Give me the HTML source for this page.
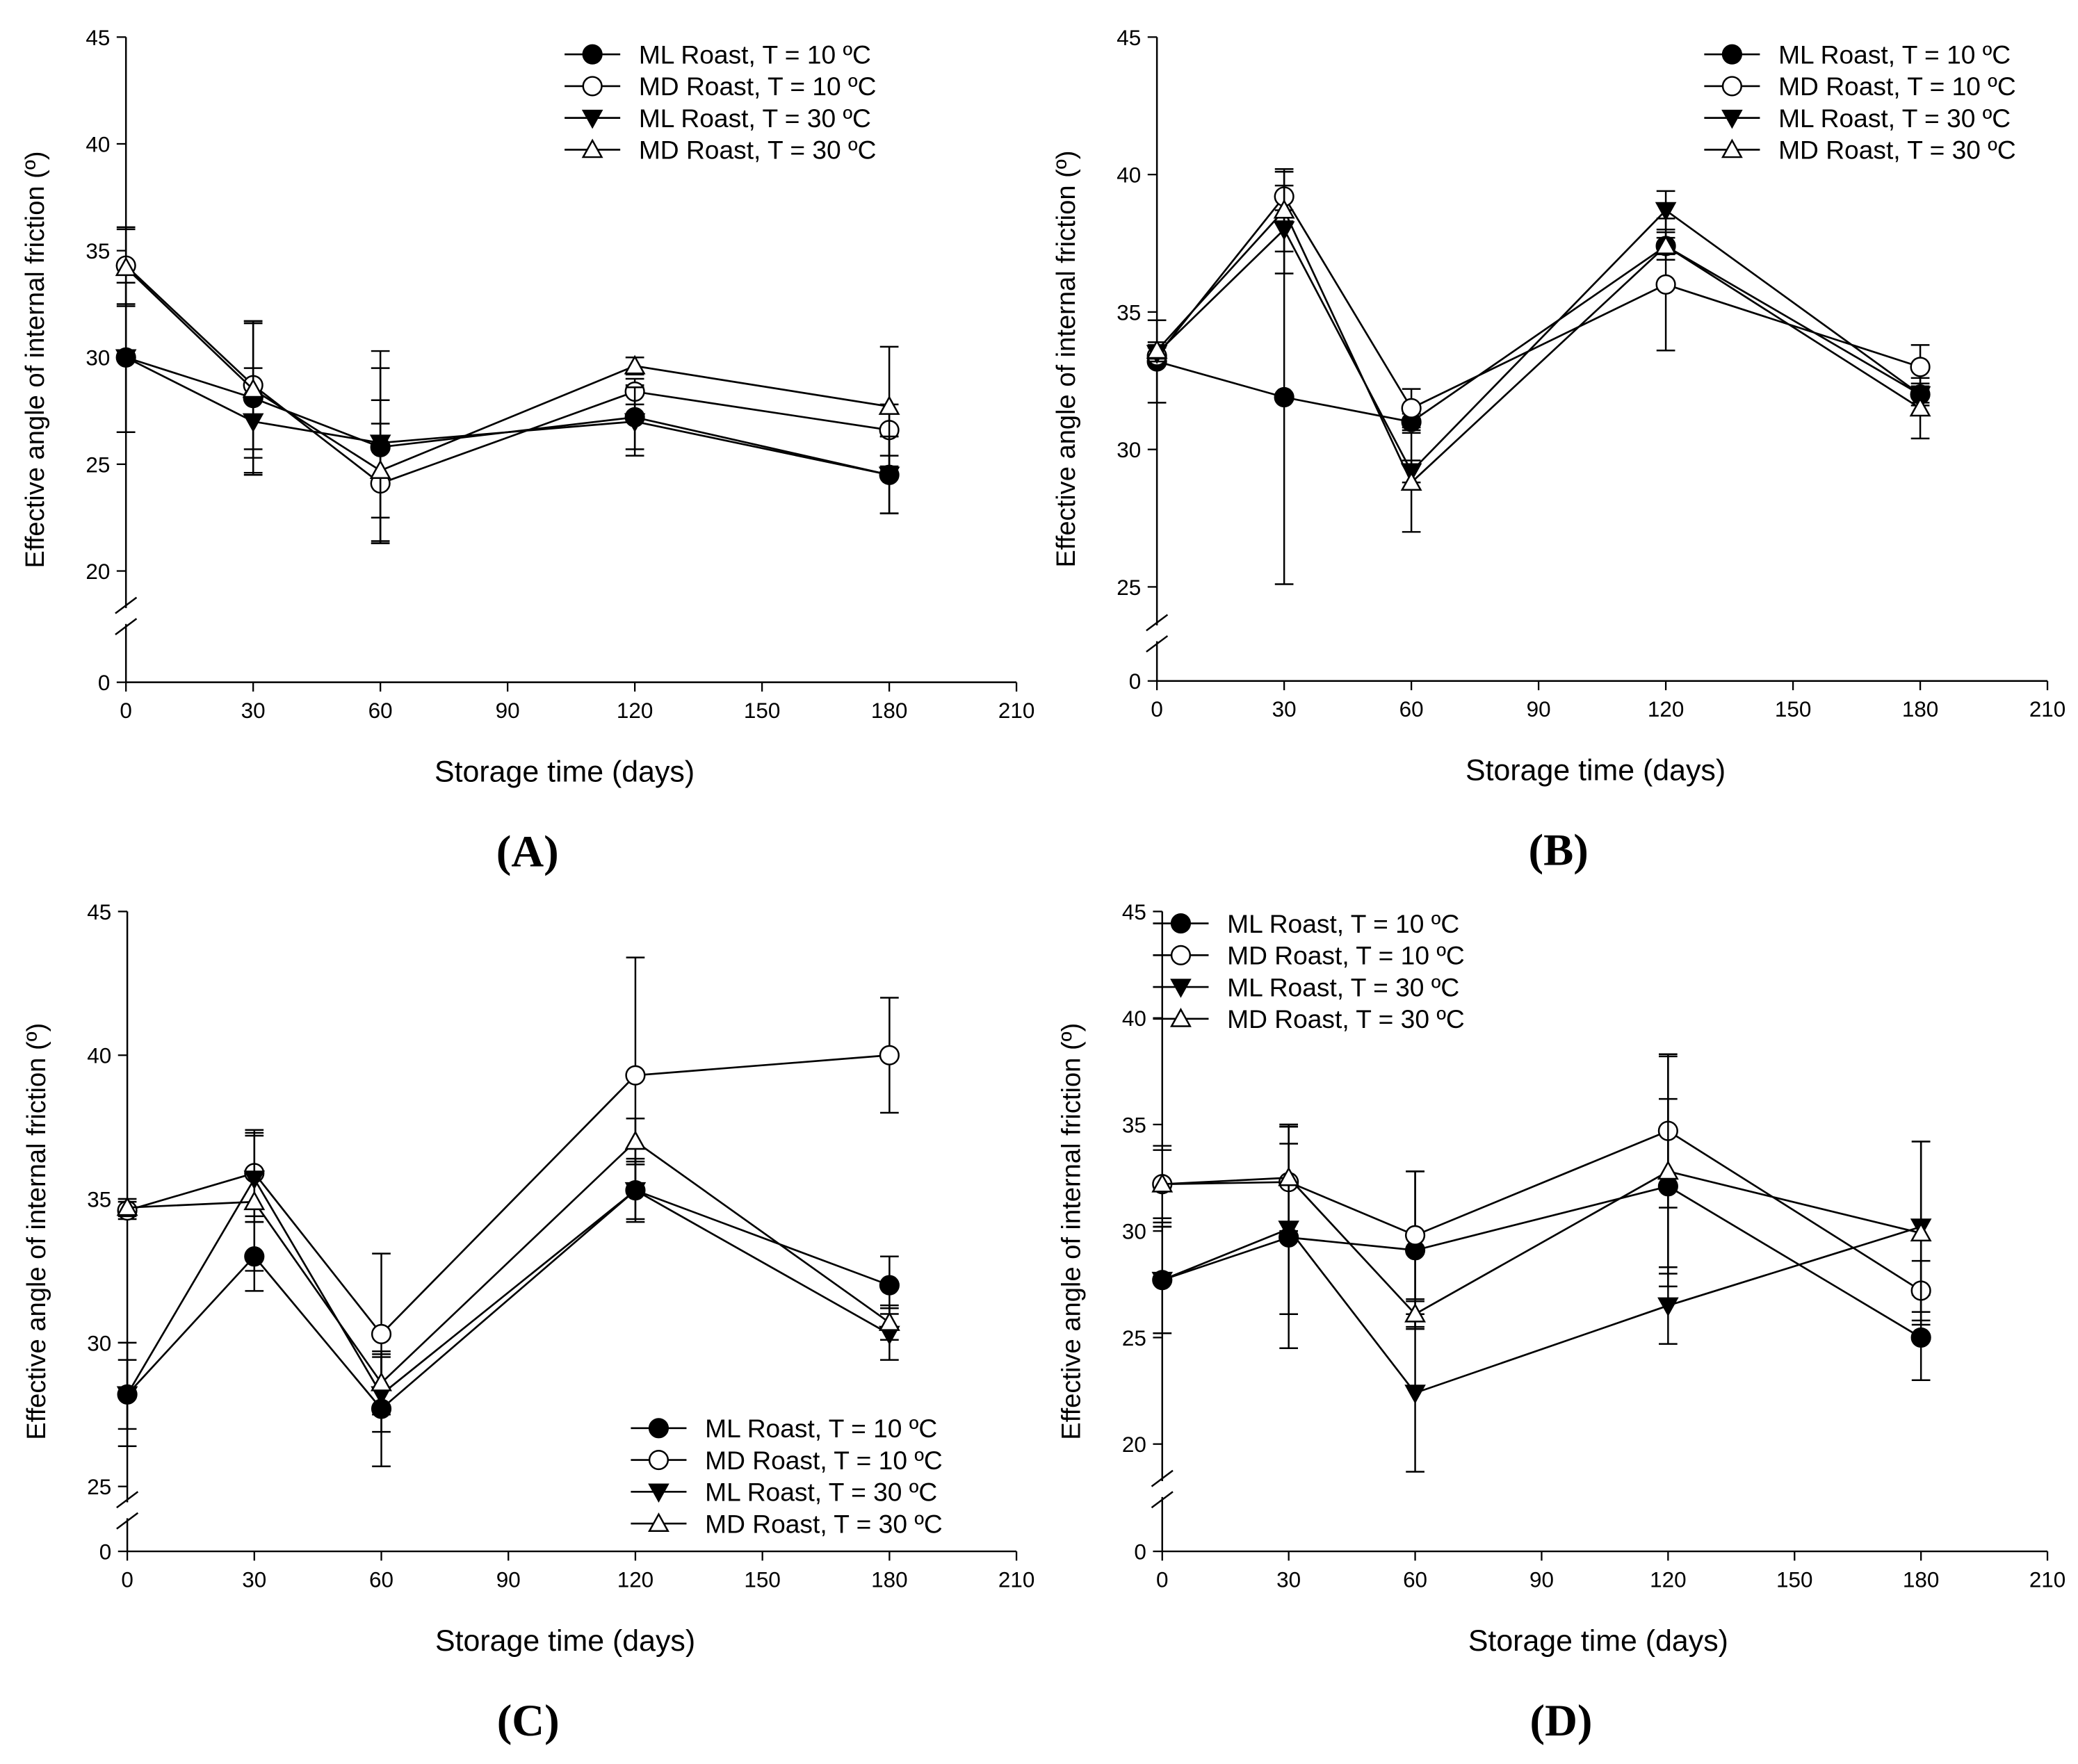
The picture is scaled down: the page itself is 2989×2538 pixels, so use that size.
<!DOCTYPE html>
<html><head><meta charset="utf-8">
<style>
html,body{margin:0;padding:0;background:#fff;}
svg{display:block;}
text{font-family:"Liberation Sans",Arial,sans-serif;fill:#000;}
.lbl{font-family:"Liberation Serif",serif;font-weight:bold;font-size:34px;}
</style></head>
<body>
<svg id="fig" width="2989" height="2538" viewBox="0 0 1568 1331.5" xmlns="http://www.w3.org/2000/svg"></svg>
<script>
// ---- data ----
const days = [0, 30, 60, 120, 180];
const xTicks = [0, 30, 60, 90, 120, 150, 180, 210];
const seriesNames = ["ML Roast, T = 10 ºC", "MD Roast, T = 10 ºC", "ML Roast, T = 30 ºC", "MD Roast, T = 30 ºC"];
// Panel A
const aML10 = [30.0, 28.1, 25.8, 27.2, 24.5];
const aMD10 = [34.3, 28.7, 24.1, 28.4, 26.6];
const aML30 = [30.0, 27.0, 26.0, 27.0, 24.5];
const aMD30 = [34.2, 28.5, 24.7, 29.6, 27.7];
const aErrML10 = [3.5, 3.5, 4.5, 1.5, 1.8];
const aErrMD10 = [1.8, 3.0, 2.8, 0.6, 1.2];
const aErrML30 = [3.5, 2.5, 3.5, 1.6, 1.8];
const aErrMD30 = [1.8, 3.2, 3.3, 0.4, 2.8];
// Panel B
const bML10 = [33.2, 31.9, 31.0, 37.4, 32.0];
const bMD10 = [33.4, 39.2, 31.5, 36.0, 33.0];
const bML30 = [33.5, 38.0, 29.2, 38.7, 32.0];
const bMD30 = [33.6, 38.7, 28.8, 37.4, 31.5];
const bErrML10 = [1.5, 6.8, 0.3, 0.5, 0.4];
const bErrMD10 = [0.3, 0.9, 0.7, 2.4, 0.8];
const bErrML30 = [0.3, 1.6, 0.4, 0.7, 0.3];
const bErrMD30 = [0.3, 1.5, 1.8, 0.3, 1.1];
// Panel C
const cML10 = [28.2, 33.0, 27.7, 35.3, 32.0];
const cMD10 = [34.6, 35.9, 30.3, 39.3, 40.0];
const cML30 = [28.2, 35.7, 28.2, 35.3, 30.3];
const cMD30 = [34.7, 34.9, 28.6, 37.0, 30.7];
const cErrML10 = [1.2, 1.2, 2.0, 1.1, 1.0];
const cErrMD10 = [0.3, 1.5, 2.8, 4.1, 2.0];
const cErrML30 = [1.8, 1.5, 1.3, 1.0, 0.9];
const cErrMD30 = [0.3, 2.4, 1.0, 0.8, 0.6];
// Panel D
const dML10 = [27.7, 29.7, 29.1, 32.1, 25.0];
const dMD10 = [32.2, 32.3, 29.8, 34.7, 27.2];
const dML30 = [27.7, 30.1, 22.4, 26.5, 30.2];
const dMD30 = [32.2, 32.5, 26.1, 32.8, 29.9];
const dErrML10 = [2.5, 5.2, 3.7, 4.1, 2.0];
const dErrMD10 = [1.6, 2.6, 3.0, 3.6, 1.4];
const dErrML30 = [2.5, 4.0, 3.7, 1.8, 4.0];
const dErrMD30 = [1.8, 2.5, 0.6, 5.4, 4.3];
const aYTicks = [20, 25, 30, 35, 40, 45];
const bYTicks = [25, 30, 35, 40, 45];
const cYTicks = [25, 30, 35, 40, 45];
const dYTicks = [20, 25, 30, 35, 40, 45];

const NS = "http://www.w3.org/2000/svg";
const svg = document.getElementById('fig');
function mk(tag, attrs, parent){
  const e = document.createElementNS(NS, tag);
  for (const k in attrs) e.setAttribute(k, attrs[k]);
  (parent||svg).appendChild(e); return e;
}
const markerKinds = ["fc","oc","ftd","otu"];
function marker(g, kind, x, y, r){
  let e;
  if (kind === "fc" || kind === "oc") {
    e = mk('circle', {cx:x, cy:y, r:r, fill: kind==="fc"?"#000":"#fff", stroke:"#000", "stroke-width":1.3}, g);
  } else if (kind === "ftd") {
    e = mk('polygon', {points:`${x-r},${y-r*0.8} ${x+r},${y-r*0.8} ${x},${y+r}`, fill:"#000", stroke:"#000", "stroke-width":1.2}, g);
  } else {
    e = mk('polygon', {points:`${x-r},${y+r*0.8} ${x+r},${y+r*0.8} ${x},${y-r}`, fill:"#fff", stroke:"#000", "stroke-width":1.3}, g);
  }
  return e;
}

function panel(p){
  const g = mk('g', {});
  
  
  const xs = v => p.x0 + (v/210)*(p.x1 - p.x0);
  const ys = v => p.yTop + (45 - v)*(p.yLow - p.yTop)/(45 - p.ymin);
  const ax = mk('line', {x1:p.x0, y1:p.yTop, x2:p.x0, y2:p.brk-6, stroke:"#000", "stroke-width":1.3}, g);
  
  
  mk('line', {x1:p.x0, y1:p.brk+6, x2:p.x0, y2:p.y0, stroke:"#000", "stroke-width":1.3}, g);
  mk('line', {x1:p.x0-8, y1:p.brk-2, x2:p.x0+8, y2:p.brk-14, stroke:"#000", "stroke-width":1.3}, g);
  mk('line', {x1:p.x0-8, y1:p.brk+14, x2:p.x0+8, y2:p.brk+2, stroke:"#000", "stroke-width":1.3}, g);
  const xa = mk('line', {x1:p.x0, y1:p.y0, x2:p.x1, y2:p.y0, stroke:"#000", "stroke-width":1.3}, g);
  
  
  xTicks.forEach(t => {
    mk('line', {x1:xs(t), y1:p.y0, x2:xs(t), y2:p.y0+7, stroke:"#000", "stroke-width":1.2}, g);
    const tx = mk('text', {x:xs(t), y:p.y0+27, "font-size":16.5, "text-anchor":"middle"}, g);
    tx.textContent = t;
    
    
  });
  p.yt.forEach(t => {
    mk('line', {x1:p.x0-7, y1:ys(t), x2:p.x0, y2:ys(t), stroke:"#000", "stroke-width":1.2}, g);
    const tx = mk('text', {x:p.x0-12, y:ys(t)+6, "font-size":16.5, "text-anchor":"end"}, g);
    tx.textContent = t;
    
    
  });
  mk('line', {x1:p.x0-7, y1:p.y0, x2:p.x0, y2:p.y0, stroke:"#000", "stroke-width":1.2}, g);
  const z = mk('text', {x:p.x0-12, y:p.y0+6, "font-size":16.5, "text-anchor":"end"}, g);
  z.textContent = "0";
  const xt = mk('text', {x:(p.x0+p.x1)/2 - 5, y:p.y0+75, "font-size":22.5, "text-anchor":"middle"}, g);
  xt.textContent = "Storage time (days)";
  
  
  const cy = (p.yTop + p.y0)/2;
  const yt = mk('text', {x:0, y:0, "font-size":20, "text-anchor":"middle", transform:`translate(${p.x0-62},${cy}) rotate(-90)`}, g);
  yt.textContent = "Effective angle of internal friction (º)";
  
  
  const pl = mk('text', {x:(p.x0+p.x1)/2 - 33, y:p.y0+139, "text-anchor":"middle", class:"lbl"}, g);
  pl.textContent = "(" + p.id + ")";
  
  
  p.series.forEach((s, si) => {
    const sg = mk('g', {}, g);
    
    
    days.forEach((d, i) => {
      const x = xs(d), lo = ys(s[i]-p.err[si][i]), hi = ys(s[i]+p.err[si][i]);
      mk('line', {x1:x, y1:lo, x2:x, y2:hi, stroke:"#000", "stroke-width":1.3}, sg);
      mk('line', {x1:x-7, y1:lo, x2:x+7, y2:lo, stroke:"#000", "stroke-width":1.3}, sg);
      mk('line', {x1:x-7, y1:hi, x2:x+7, y2:hi, stroke:"#000", "stroke-width":1.3}, sg);
    });
    const pts = days.map((d,i) => xs(d)+","+ys(s[i])).join(" ");
    const ln = mk('polyline', {points:pts, fill:"none", stroke:"#000", "stroke-width":1.4}, sg);
    
    
    days.forEach((d,i) => {
      const m = marker(sg, markerKinds[si], xs(d), ys(s[i]), 7);
      
      
    });
  });
  const lg = mk('g', {}, g);
  
  
  seriesNames.forEach((n, i) => {
    const y = p.lgY + i*24;
    const eg = mk('g', {}, lg);
    
    
    mk('line', {x1:p.lgX, y1:y, x2:p.lgX+42, y2:y, stroke:"#000", "stroke-width":1.4}, eg);
    marker(eg, markerKinds[i], p.lgX+21, y, 7);
    const t = mk('text', {x:p.lgX+56, y:y+7, "font-size":19.5}, eg);
    t.textContent = n;
  });
}

panel({id:"A", x0:95, x1:767, yTop:28, yLow:431, ymin:20, y0:515, brk:465, yt:aYTicks,
  series:[aML10,aMD10,aML30,aMD30], err:[aErrML10,aErrMD10,aErrML30,aErrMD30], lgX:426, lgY:41});
panel({id:"B", x0:873, x1:1545, yTop:28, yLow:443, ymin:25, y0:514, brk:478, yt:bYTicks,
  series:[bML10,bMD10,bML30,bMD30], err:[bErrML10,bErrMD10,bErrML30,bErrMD30], lgX:1286, lgY:41});
panel({id:"C", x0:96, x1:767, yTop:688, yLow:1122, ymin:25, y0:1171, brk:1140, yt:cYTicks,
  series:[cML10,cMD10,cML30,cMD30], err:[cErrML10,cErrMD10,cErrML30,cErrMD30], lgX:476, lgY:1078});
panel({id:"D", x0:877, x1:1545, yTop:688, yLow:1090, ymin:20, y0:1171, brk:1124, yt:dYTicks,
  series:[dML10,dMD10,dML30,dMD30], err:[dErrML10,dErrMD10,dErrML30,dErrMD30], lgX:870, lgY:697});
</script>
</body></html>
